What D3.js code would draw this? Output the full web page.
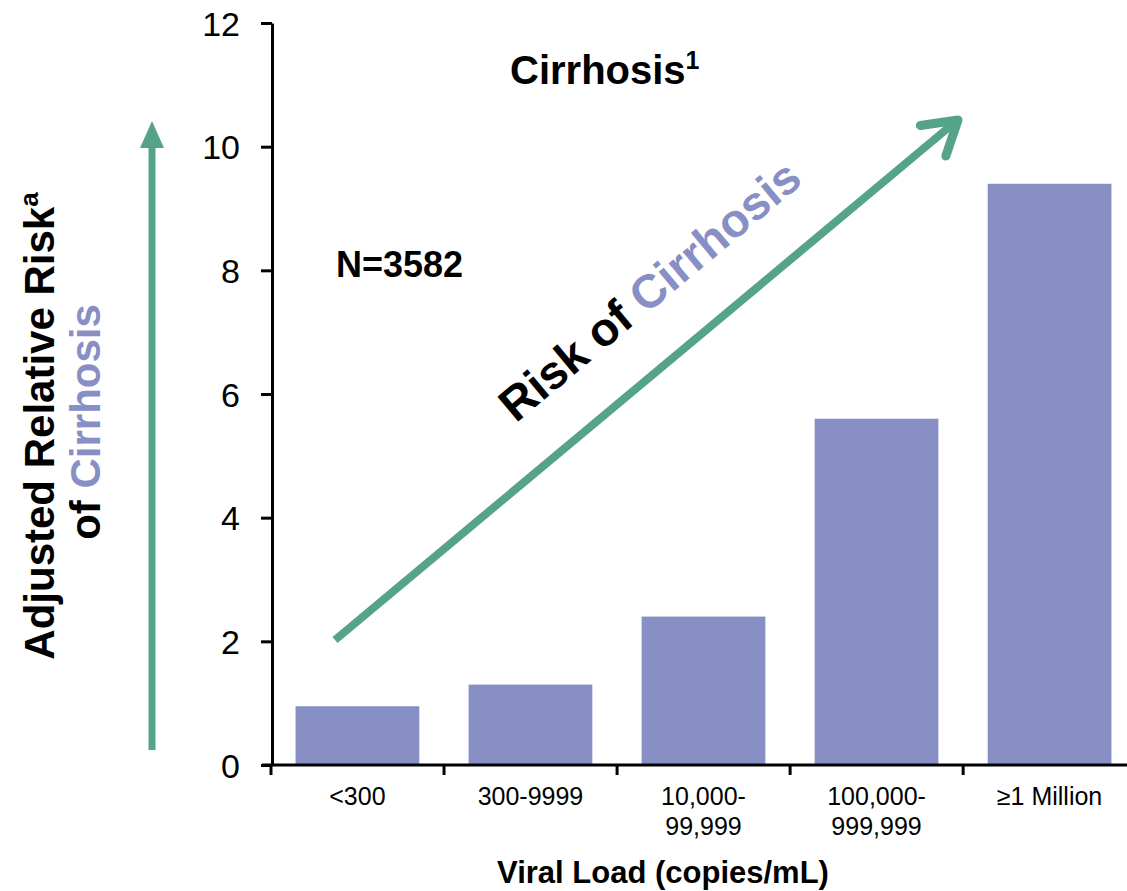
<!DOCTYPE html>
<html>
<head>
<meta charset="utf-8">
<script src="https://cdn.jsdelivr.net/npm/d3@7"></script>
<style>
  html, body { margin: 0; padding: 0; background: #fff; }
  svg { display: block; font-family: "Liberation Sans", Arial, sans-serif; }
</style>
</head>
<body>
<svg id="chart" width="1127" height="891"></svg>
<script>
// Viral load categories (two-line labels) and adjusted relative risk of cirrhosis
const categories = ["<300", "300-9999", "10,000-99,999", "100,000-999,999", "≥1 Million"];
const categoryLines = [["<300"], ["300-9999"], ["10,000-", "99,999"], ["100,000-", "999,999"], ["≥1 Million"]];
const riskValues = [0.95, 1.3, 2.4, 5.6, 9.4];
const yTicks = [0, 2, 4, 6, 8, 10, 12];

const barColor = "#878FC4";
const arrowColor = "#55A38A";

const svg = d3.select("#chart");

const x = d3.scaleBand().domain(categories).range([271, 1136]).paddingInner(0.285).paddingOuter(0.142);
const y = d3.scaleLinear().domain([0, 12]).range([765, 23]);

// Bars
svg.append("g").selectAll("rect")
  .data(riskValues)
  .join("rect")
  .attr("x", (d, i) => x(categories[i]))
  .attr("width", x.bandwidth())
  .attr("y", d => y(d))
  .attr("height", d => y(0) - y(d))
  .attr("fill", barColor);

// Y axis
const yAxis = svg.append("g")
  .attr("transform", "translate(272,0)")
  .call(d3.axisLeft(y).tickValues(yTicks).tickSize(11).tickPadding(21).tickSizeOuter(0));
yAxis.select(".domain").attr("stroke", "#000").attr("stroke-width", 3);
yAxis.selectAll(".tick line").attr("stroke", "#000").attr("stroke-width", 3);
yAxis.selectAll(".tick text")
  .attr("font-size", 34)
  .attr("fill", "#000")
  .attr("font-family", "'Liberation Sans', Arial, sans-serif")
  .attr("dy", "0.36em");

// X axis: baseline across the plot with ticks at band boundaries
const bandStep = x.step();
const boundaries = categories.map((c, i) => x.range()[0] + i * bandStep);
svg.append("line")
  .attr("x1", 262).attr("x2", 1127)
  .attr("y1", y(0)).attr("y2", y(0))
  .attr("stroke", "#000").attr("stroke-width", 3);
svg.append("g").selectAll("line")
  .data(boundaries)
  .join("line")
  .attr("x1", d => d).attr("x2", d => d)
  .attr("y1", y(0)).attr("y2", y(0) + 10)
  .attr("stroke", "#000").attr("stroke-width", 3);

// Category labels
const xl = svg.append("g")
  .attr("font-size", 25)
  .attr("text-anchor", "middle")
  .attr("fill", "#000");
categoryLines.forEach((lines, i) => {
  const cx = x(categories[i]) + x.bandwidth() / 2;
  const t = xl.append("text").attr("x", cx).attr("y", 805);
  lines.forEach((ln, j) => {
    t.append("tspan").attr("x", cx).attr("dy", j === 0 ? 0 : 30).text(ln);
  });
});

// X axis title
svg.append("text")
  .attr("x", 663).attr("y", 883)
  .attr("text-anchor", "middle")
  .attr("font-weight", "bold")
  .attr("font-size", 31)
  .text("Viral Load (copies/mL)");

// Y axis title (two lines, rotated)
const yt = svg.append("g").attr("font-weight", "bold").attr("font-size", 42).attr("text-anchor", "middle");
const yt1 = yt.append("text").attr("transform", "translate(54,426) rotate(-90)");
yt1.append("tspan").text("Adjusted Relative Risk");
yt1.append("tspan").attr("font-size", 26).attr("dy", -16).text("a");
const yt2 = yt.append("text").attr("transform", "translate(100,422) rotate(-90)");
yt2.append("tspan").text("of ");
yt2.append("tspan").attr("fill", barColor).text("Cirrhosis");

// Title
const title = svg.append("text").attr("x", 510).attr("y", 84)
  .attr("font-weight", "bold").attr("font-size", 40);
title.append("tspan").text("Cirrhosis");
title.append("tspan").attr("font-size", 25).attr("dy", -15).text("1");

// Sample size
svg.append("text").attr("x", 336).attr("y", 277)
  .attr("font-weight", "bold").attr("font-size", 36).text("N=3582");

// Vertical arrow beside the y-axis title
svg.append("line")
  .attr("x1", 152).attr("x2", 152).attr("y1", 750).attr("y2", 140)
  .attr("stroke", arrowColor).attr("stroke-width", 7);
svg.append("path")
  .attr("d", "M152,121 L140,148 L164,148 Z")
  .attr("fill", arrowColor);

// Diagonal trend arrow
const a0 = [335, 640], a1 = [958, 120];
svg.append("line")
  .attr("x1", a0[0]).attr("y1", a0[1]).attr("x2", a1[0] - 4).attr("y2", a1[1] + 3)
  .attr("stroke", arrowColor).attr("stroke-width", 8);
const ang = Math.atan2(a1[1] - a0[1], a1[0] - a0[0]);
const headLen = 38, spread = 0.55;
const p1 = [a1[0] - headLen * Math.cos(ang - spread), a1[1] - headLen * Math.sin(ang - spread)];
const p2 = [a1[0] - headLen * Math.cos(ang + spread), a1[1] - headLen * Math.sin(ang + spread)];
svg.append("path")
  .attr("d", `M${p1[0]},${p1[1]} L${a1[0]},${a1[1]} L${p2[0]},${p2[1]}`)
  .attr("fill", "none").attr("stroke", arrowColor).attr("stroke-width", 9)
  .attr("stroke-linecap", "round").attr("stroke-linejoin", "round");

// Rotated label along the trend arrow
const deg = ang * 180 / Math.PI;
const rl = svg.append("text")
  .attr("transform", `translate(660,303) rotate(${deg})`)
  .attr("text-anchor", "middle")
  .attr("font-weight", "bold").attr("font-size", 47);
rl.append("tspan").text("Risk of ");
rl.append("tspan").attr("fill", barColor).text("Cirrhosis");
</script>
</body>
</html>
